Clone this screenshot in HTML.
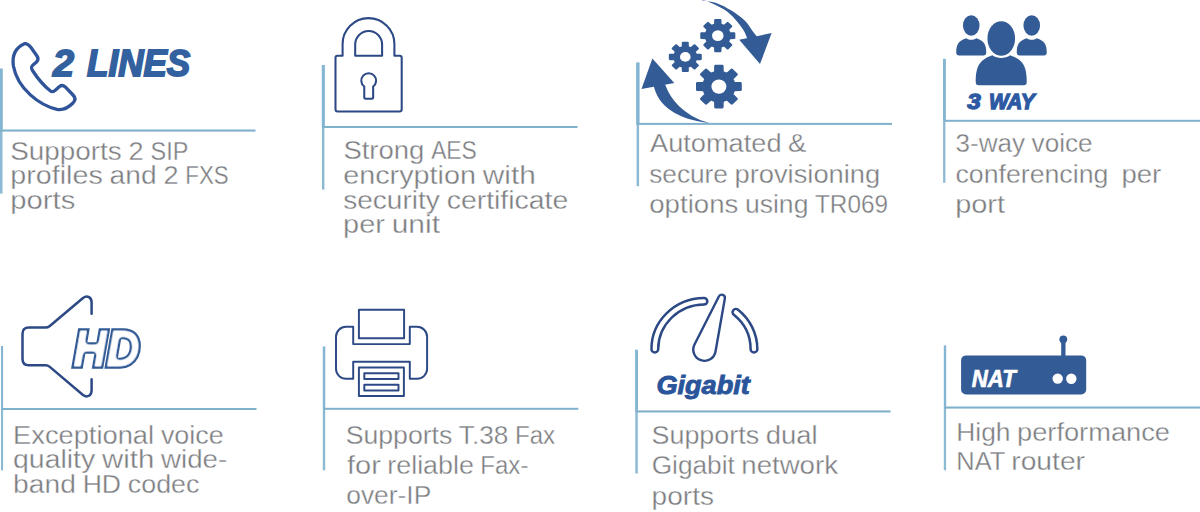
<!DOCTYPE html>
<html lang="en">
<head>
<meta charset="utf-8">
<title>Product features</title>
<style>
html,body{margin:0;padding:0;background:#fff}
body{width:1200px;height:512px;position:relative;overflow:hidden;font-family:"Liberation Sans",sans-serif}
.vl{fill:#84b6d3}
.lo{fill:#8dbad3}
.hl{fill:#80b1cc}
svg.art{position:absolute;left:0;top:0;width:1200px;height:512px;overflow:hidden}
.cap text{font-family:"Liberation Sans",sans-serif;font-size:25.5px;fill:#7d7e82;stroke:#fff;stroke-width:.32px}
.bi{font-family:"Liberation Sans",sans-serif;font-weight:bold;font-style:italic}
.o{fill:none;stroke:#2c4985;stroke-linejoin:round;stroke-linecap:round}
.f{fill:#335b95}
</style>
</head>
<body>

<svg class="art" viewBox="0 0 1200 512">
<g id="rules">
<rect class="vl" x="0" y="68.5" width="2.8" height="62.1"/><rect class="vl lo" x="0" y="130.6" width="2.5" height="63.0"/><rect class="hl" x="0" y="129.5" width="255.5" height="2.1"/>
<rect class="vl" x="321.8" y="65" width="3.1" height="62.0"/><rect class="vl lo" x="322.0" y="127.0" width="2.4" height="62.6"/><rect class="hl" x="322" y="126" width="255.5" height="2.0"/>
<rect class="vl" x="636.1" y="62.4" width="3.5" height="61.5"/><rect class="vl lo" x="636.6" y="123.9" width="2.5" height="62.3"/><rect class="hl" x="636.5" y="122.9" width="255.5" height="2.0"/>
<rect class="vl" x="943.0" y="58.8" width="2.9" height="62.0"/><rect class="vl lo" x="943.1" y="120.8" width="2.3" height="62.0"/><rect class="hl" x="943.5" y="119.8" width="256.5" height="2.0"/>
<rect class="vl" x="1.0" y="346" width="2.1" height="63.0"/><rect class="vl lo" x="1.0" y="409.0" width="2.1" height="61.3"/><rect class="hl" x="1.2" y="408" width="255.3" height="2.0"/>
<rect class="vl" x="322.8" y="346.4" width="2.5" height="62.4"/><rect class="vl lo" x="322.8" y="408.8" width="2.4" height="61.5"/><rect class="hl" x="323" y="407.8" width="255.3" height="2.0"/>
<rect class="vl" x="635.1" y="349.7" width="2.9" height="61.8"/><rect class="vl lo" x="635.3" y="411.4" width="2.5" height="62.1"/><rect class="hl" x="635.5" y="410.4" width="255.0" height="2.1"/>
<rect class="vl" x="943.8" y="345.4" width="2.4" height="62.2"/><rect class="vl lo" x="943.8" y="407.6" width="2.3" height="62.6"/><rect class="hl" x="944" y="406.5" width="256.0" height="2.1"/>
</g>
<filter id="ring" x="-10%" y="-10%" width="120%" height="120%" color-interpolation-filters="sRGB"><feGaussianBlur in="SourceAlpha" stdDeviation="1.6" result="b"/><feComponentTransfer in="b" result="core"><feFuncA type="linear" slope="8" intercept="-6.95"/></feComponentTransfer><feComposite in="SourceGraphic" in2="core" operator="out"/></filter>
<g id="ic-lines">
<path class="o" style="stroke:#30549a" stroke-width="3.3" d="M24.4 43.7 C27 43 29 45 31 47.5 L37 56 C38.8 58.5 38.5 60 36.5 62 L33 65 C31 66.8 31 68 32.5 70.5 C38 79 44 86 50.5 91 C52 92.2 53 92 55 90.5 L59.5 86.5 C61.5 85 63 85 65 86.7 L73 95 C75.5 97.5 75.5 100.5 73 103 C68 108 63 110.5 57 109.3 C40 105.5 17.5 89 13.4 66 C11.8 55 16 47.5 24.4 43.7 Z"/>
<text class="bi" y="75.6" font-size="37" fill="#33609e" stroke="#33609e" stroke-width="1.8" stroke-linejoin="miter"><tspan x="53" textLength="21" lengthAdjust="spacingAndGlyphs">2</tspan> <tspan x="87" textLength="103.2" lengthAdjust="spacingAndGlyphs">LINES</tspan></text>
</g>
<g id="ic-lock" class="o" stroke-width="2.05">
<path d="M342.6 55.7 V44 A25.9 25.9 0 0 1 394.4 44 V55.7 H399.7 Q401.7 55.7 401.7 57.7 V109.2 Q401.7 111.4 399.5 111.4 H337.7 Q335.5 111.4 335.5 109.2 V57.7 Q335.5 55.7 337.5 55.7 Z"/>
<path d="M355.2 55.7 V44.5 A13.45 13.45 0 0 1 382.1 44.5 V55.7 Z"/>
<path d="M364.25 86.51 A7.4 7.4 0 1 1 373.15 86.51 V97.2 Q373.15 98.7 371.65 98.7 H365.75 Q364.25 98.7 364.25 97.2 Z"/>
</g>
<g id="ic-gears" class="f">
<g transform="translate(717.8 35.65) scale(1.025 0.975)"><path stroke="#335b95" stroke-width="2.2" stroke-linejoin="round" d="M11.41 -2.60 L16.01 -2.46 L16.01 2.46 L11.41 2.60 L9.90 6.23 L13.06 9.59 L9.59 13.06 L6.23 9.90 L2.60 11.41 L2.46 16.01 L-2.46 16.01 L-2.60 11.41 L-6.23 9.90 L-9.59 13.06 L-13.06 9.59 L-9.90 6.23 L-11.41 2.60 L-16.01 2.46 L-16.01 -2.46 L-11.41 -2.60 L-9.90 -6.23 L-13.06 -9.59 L-9.59 -13.06 L-6.23 -9.90 L-2.60 -11.41 L-2.46 -16.01 L2.46 -16.01 L2.60 -11.41 L6.23 -9.90 L9.59 -13.06 L13.06 -9.59 L9.90 -6.23 Z"/><circle r="5.6" fill="#fff"/></g>
<g transform="translate(685.3 56.9) scale(1.04 0.96)"><path stroke="#335b95" stroke-width="2.2" stroke-linejoin="round" d="M10.24 -2.33 L14.73 -2.26 L14.73 2.26 L10.24 2.33 L8.89 5.59 L12.01 8.82 L8.82 12.01 L5.59 8.89 L2.33 10.24 L2.26 14.73 L-2.26 14.73 L-2.33 10.24 L-5.59 8.89 L-8.82 12.01 L-12.01 8.82 L-8.89 5.59 L-10.24 2.33 L-14.73 2.26 L-14.73 -2.26 L-10.24 -2.33 L-8.89 -5.59 L-12.01 -8.82 L-8.82 -12.01 L-5.59 -8.89 L-2.33 -10.24 L-2.26 -14.73 L2.26 -14.73 L2.33 -10.24 L5.59 -8.89 L8.82 -12.01 L12.01 -8.82 L8.89 -5.59 Z"/><circle r="5.1" fill="#fff"/></g>
<g transform="translate(718.9 86.6) scale(1.025 0.975)"><path stroke="#335b95" stroke-width="2.8" stroke-linejoin="round" d="M14.63 -3.33 L20.95 -3.21 L20.95 3.21 L14.63 3.33 L12.70 7.99 L17.09 12.54 L12.54 17.09 L7.99 12.70 L3.33 14.63 L3.21 20.95 L-3.21 20.95 L-3.33 14.63 L-7.99 12.70 L-12.54 17.09 L-17.09 12.54 L-12.70 7.99 L-14.63 3.33 L-20.95 3.21 L-20.95 -3.21 L-14.63 -3.33 L-12.70 -7.99 L-17.09 -12.54 L-12.54 -17.09 L-7.99 -12.70 L-3.33 -14.63 L-3.21 -20.95 L3.21 -20.95 L3.33 -14.63 L7.99 -12.70 L12.54 -17.09 L17.09 -12.54 L12.70 -7.99 Z"/><circle r="7.3" fill="#fff"/></g>
<path d="M694.0 -2.0 C695.1 -1.7 697.0 -0.9 700.9 0.0 C704.8 0.9 712.4 1.7 717.4 3.4 C722.4 5.1 726.5 7.5 731.0 10.3 C735.5 13.2 741.1 17.0 744.7 20.5 C748.4 24.0 750.7 28.6 752.9 31.5 C755.1 34.4 756.7 36.1 757.7 37.6 C758.7 39.1 758.8 40.0 759.0 40.5 L748.5 42.0 C748.3 41.5 748.4 41.0 747.5 39.0 C746.6 37.0 745.5 33.4 743.4 30.1 C741.3 26.8 738.3 22.6 735.1 19.2 C731.9 15.8 728.8 12.6 724.2 9.6 C719.7 6.6 712.8 3.3 707.8 1.4 C702.8 -0.5 696.3 -1.4 694.0 -2.0 Z"/>
<path d="M739.2 39.8 L771.6 33.1 L760 64.1 Z"/>
<path d="M653.4 84 C657 106 678 120 709.4 122.9 C690 118 671 104 664.3 82 Z"/>
<path d="M652.4 58.6 L641.5 89.1 L674.3 83.1 Z"/>
</g>
<g id="ic-3way" class="f">
<ellipse cx="971.25" cy="25.5" rx="8.3" ry="10.2"/><path d="M959.25 55.5 Q956.25 55.5 956.25 52.5 C956.25 44.3 958.5 41.0 966.25 38.2 C969.2 40.3 973.2 40.3 976.25 38.2 C984.0 41.0 986.25 44.3 986.25 52.5 Q986.25 55.5 983.25 55.5 Z"/>
<ellipse cx="1031.75" cy="25.5" rx="8.3" ry="10.2"/><path d="M1019.75 55.5 Q1016.75 55.5 1016.75 52.5 C1016.75 44.3 1019.0 41.0 1026.75 38.2 C1029.8 40.3 1033.8 40.3 1036.75 38.2 C1044.5 41.0 1046.75 44.3 1046.75 52.5 Q1046.75 55.5 1043.75 55.5 Z"/>
<g stroke="#fff" stroke-width="3.2" paint-order="stroke"><ellipse cx="1001.25" cy="38.5" rx="13.8" ry="17.2"/><path d="M978.75 85.2 Q975.75 85.2 975.75 82.2 C975.75 65.7 979.6 60.0 992.25 55.2 C997.6 58.8 1004.9 58.8 1010.25 55.2 C1022.9 60.0 1026.75 65.7 1026.75 82.2 Q1026.75 85.2 1023.75 85.2 Z"/></g>
<text class="bi" y="108.6" font-size="21.6" fill="#2d5aa2" stroke="#2d5aa2" stroke-width="1.3" stroke-linejoin="miter"><tspan x="967.2" textLength="13.5" lengthAdjust="spacingAndGlyphs">3</tspan> <tspan x="988.9" textLength="45.8" lengthAdjust="spacingAndGlyphs">WAY</tspan></text>
</g>
<g id="ic-hd">
<path class="o" stroke-width="2.5" d="M91.6 313.8 V302.6 C91.6 297.5 87.5 294.8 83 298 L49.5 326.2 Q47.8 327.6 45.5 327.6 H28.8 Q22.5 327.6 22.5 333.9 V358.9 Q22.5 365.2 28.8 365.2 H45.5 Q47.8 365.2 49.5 366.6 L83 395 C87.5 398.2 91.6 395.4 91.6 390.3 V379.2"/>
<text class="bi f" x="73.3" y="365.9" font-size="50.5" textLength="66.5" lengthAdjust="spacingAndGlyphs" stroke="#335b95" stroke-width="5.4" stroke-linejoin="miter" filter="url(#ring)">HD</text>
</g>
<g id="ic-fax" class="o" stroke-width="1.95" stroke-linejoin="miter">
<rect x="358.9" y="309.7" width="45.2" height="28.5"/>
<path d="M353.2 326.8 H346 A10 10 0 0 0 336 336.8 V368.8 A10 10 0 0 0 346 378.8 H353.2 V361.8 H409.8 V378.8 H417.1 A10 10 0 0 0 427.1 368.8 V336.8 A10 10 0 0 0 417.1 326.8 H409.8 V344.1 H353.2 Z"/>
<rect x="358.9" y="367.5" width="45" height="28.5"/>
<rect x="364.3" y="373.2" width="34.2" height="5.7"/>
<rect x="364.3" y="384.7" width="34.2" height="5.8"/>
</g>
<g id="ic-gig">
<g transform="translate(704.4 349.2) scale(1.035 1)">
<path class="o" stroke-width="2.4" d="M-51.15 -0.00 A51.15 51.15 0 0 1 -0.45 -51.15 A3.25 3.25 0 0 1 -0.39 -44.65 A44.65 44.65 0 0 0 -44.65 -0.00 A3.25 3.25 0 0 1 -51.15 -0.00 Z"/>
<path class="o" stroke-width="2.4" d="M32.54 -39.47 A51.15 51.15 0 0 1 51.15 -0.00 A3.25 3.25 0 0 1 44.65 -0.00 A44.65 44.65 0 0 0 28.40 -34.45 A3.25 3.25 0 0 1 32.54 -39.47 Z"/>
</g>
<path class="o" stroke-width="2.4" d="M718.84 296.45 L694.51 344.54 A11.2 11.2 0 1 0 715.53 351.54 L724.85 298.45 A3.2 3.2 0 0 0 718.84 296.45 Z"/>
<text class="bi" x="656.4" y="394.1" font-size="25.2" textLength="93.5" lengthAdjust="spacingAndGlyphs" fill="#2a559a" stroke="#2a559a" stroke-width="0.9" stroke-linejoin="miter">Gigabit</text>
</g>
<g id="ic-nat">
<rect class="f" x="961.1" y="355.4" width="125.1" height="39.1" rx="5"/>
<rect class="f" x="1061.2" y="339" width="4.3" height="17"/>
<circle class="f" cx="1063.3" cy="339.3" r="3.9"/>
<circle fill="#fff" cx="1057.7" cy="378.6" r="5.2"/>
<circle fill="#fff" cx="1071.3" cy="378.7" r="5.2"/>
<text class="bi" x="971.8" y="386.6" font-size="24.6" textLength="44" lengthAdjust="spacingAndGlyphs" fill="#fff" stroke="#fff" stroke-width="0.7">NAT</text>
</g>
<g class="cap">
<text y="159.5"><tspan x="10.17" textLength="111.61" lengthAdjust="spacingAndGlyphs">Supports</tspan> <tspan x="128.63" textLength="15.08" lengthAdjust="spacingAndGlyphs">2</tspan> <tspan x="150.57" textLength="37.72" lengthAdjust="spacingAndGlyphs">SIP</tspan></text>
<text y="184.25"><tspan x="10.33" textLength="92.42" lengthAdjust="spacingAndGlyphs">profiles</tspan> <tspan x="109.60" textLength="46.97" lengthAdjust="spacingAndGlyphs">and</tspan> <tspan x="163.41" textLength="15.06" lengthAdjust="spacingAndGlyphs">2</tspan> <tspan x="185.32" textLength="43.26" lengthAdjust="spacingAndGlyphs">FXS</tspan></text>
<text y="208.75"><tspan x="10.33" textLength="64.95" lengthAdjust="spacingAndGlyphs">ports</tspan></text>
<text y="159.25"><tspan x="343.42" textLength="80.88" lengthAdjust="spacingAndGlyphs">Strong</tspan> <tspan x="431.13" textLength="45.70" lengthAdjust="spacingAndGlyphs">AES</tspan></text>
<text y="184.25"><tspan x="343.20" textLength="132.73" lengthAdjust="spacingAndGlyphs">encryption</tspan> <tspan x="482.83" textLength="53.03" lengthAdjust="spacingAndGlyphs">with</tspan></text>
<text y="208.75"><tspan x="343.21" textLength="96.60" lengthAdjust="spacingAndGlyphs">security</tspan> <tspan x="446.69" textLength="121.60" lengthAdjust="spacingAndGlyphs">certificate</tspan></text>
<text y="233"><tspan x="343.08" textLength="41.73" lengthAdjust="spacingAndGlyphs">per</tspan> <tspan x="391.67" textLength="48.36" lengthAdjust="spacingAndGlyphs">unit</tspan></text>
<text y="151.75"><tspan x="650.00" textLength="131.54" lengthAdjust="spacingAndGlyphs">Automated</tspan> <tspan x="788.09" textLength="18.41" lengthAdjust="spacingAndGlyphs">&amp;</tspan></text>
<text y="183"><tspan x="649.26" textLength="78.65" lengthAdjust="spacingAndGlyphs">secure</tspan> <tspan x="734.51" textLength="145.73" lengthAdjust="spacingAndGlyphs">provisioning</tspan></text>
<text y="213"><tspan x="649.26" textLength="89.10" lengthAdjust="spacingAndGlyphs">options</tspan> <tspan x="744.95" textLength="63.46" lengthAdjust="spacingAndGlyphs">using</tspan> <tspan x="814.99" textLength="73.12" lengthAdjust="spacingAndGlyphs">TR069</tspan></text>
<text y="152"><tspan x="955.50" textLength="69.51" lengthAdjust="spacingAndGlyphs">3-way</tspan> <tspan x="1031.62" textLength="60.87" lengthAdjust="spacingAndGlyphs">voice</tspan></text>
<text y="182.5"><tspan x="955.52" textLength="152.81" lengthAdjust="spacingAndGlyphs">conferencing</tspan>  <tspan x="1121.41" textLength="39.84" lengthAdjust="spacingAndGlyphs">per</tspan></text>
<text y="213"><tspan x="955.15" textLength="49.86" lengthAdjust="spacingAndGlyphs">port</tspan></text>
<text y="443.75"><tspan x="13.09" textLength="140.98" lengthAdjust="spacingAndGlyphs">Exceptional</tspan> <tspan x="160.90" textLength="62.89" lengthAdjust="spacingAndGlyphs">voice</tspan></text>
<text y="468"><tspan x="12.97" textLength="82.28" lengthAdjust="spacingAndGlyphs">quality</tspan> <tspan x="102.04" textLength="52.25" lengthAdjust="spacingAndGlyphs">with</tspan> <tspan x="161.09" textLength="66.08" lengthAdjust="spacingAndGlyphs">wide-</tspan></text>
<text y="493"><tspan x="13.09" textLength="62.75" lengthAdjust="spacingAndGlyphs">band</tspan> <tspan x="82.65" textLength="38.42" lengthAdjust="spacingAndGlyphs">HD</tspan> <tspan x="127.88" textLength="71.51" lengthAdjust="spacingAndGlyphs">codec</tspan></text>
<text y="443.75"><tspan x="345.72" textLength="106.62" lengthAdjust="spacingAndGlyphs">Supports</tspan> <tspan x="458.88" textLength="49.47" lengthAdjust="spacingAndGlyphs">T.38</tspan> <tspan x="514.90" textLength="40.23" lengthAdjust="spacingAndGlyphs">Fax</tspan></text>
<text y="473.75"><tspan x="347.00" textLength="33.82" lengthAdjust="spacingAndGlyphs">for</tspan> <tspan x="387.32" textLength="86.55" lengthAdjust="spacingAndGlyphs">reliable</tspan> <tspan x="480.37" textLength="48.01" lengthAdjust="spacingAndGlyphs">Fax-</tspan></text>
<text y="504.25"><tspan x="346.23" textLength="85.04" lengthAdjust="spacingAndGlyphs">over-IP</tspan></text>
<text y="443.75"><tspan x="651.46" textLength="107.76" lengthAdjust="spacingAndGlyphs">Supports</tspan> <tspan x="765.84" textLength="51.85" lengthAdjust="spacingAndGlyphs">dual</tspan></text>
<text y="473.75"><tspan x="651.65" textLength="83.13" lengthAdjust="spacingAndGlyphs">Gigabit</tspan> <tspan x="741.31" textLength="96.69" lengthAdjust="spacingAndGlyphs">network</tspan></text>
<text y="504.5"><tspan x="651.64" textLength="62.36" lengthAdjust="spacingAndGlyphs">ports</tspan></text>
<text y="440.75"><tspan x="956.26" textLength="54.23" lengthAdjust="spacingAndGlyphs">High</tspan> <tspan x="1017.04" textLength="152.94" lengthAdjust="spacingAndGlyphs">performance</tspan></text>
<text y="470"><tspan x="956.27" textLength="48.51" lengthAdjust="spacingAndGlyphs">NAT</tspan> <tspan x="1011.27" textLength="73.73" lengthAdjust="spacingAndGlyphs">router</tspan></text>
</g>
</svg>
</body>
</html>
